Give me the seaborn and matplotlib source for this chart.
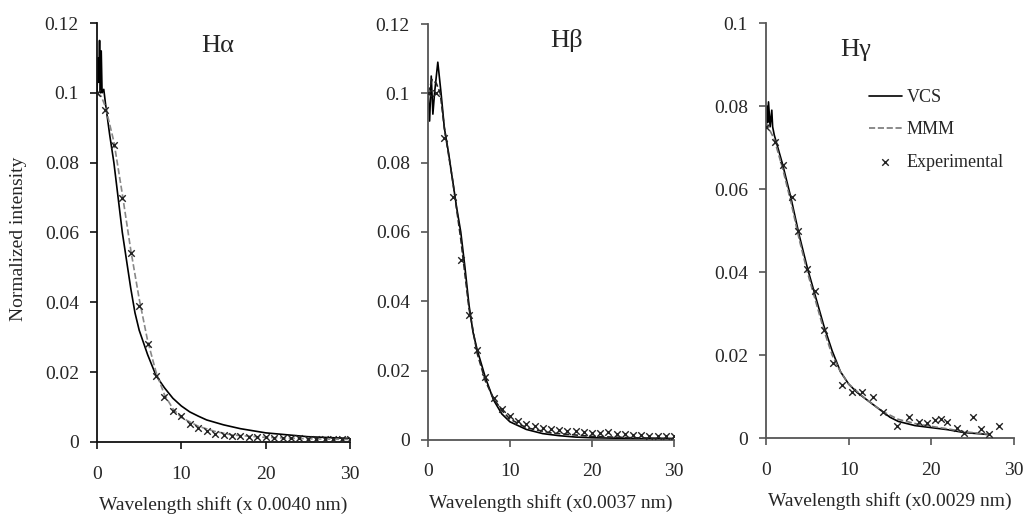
import numpy as np
import pandas as pd
import matplotlib
matplotlib.use("Agg")
import matplotlib.pyplot as plt
import seaborn as sns
from matplotlib.ticker import FuncFormatter, MultipleLocator

# H-alpha
vcs_a_x = [0, 0.1, 0.2, 0.3, 0.4, 0.5, 0.6, 0.8, 1, 1.5, 2, 2.5, 3, 3.5, 4, 4.5, 5, 6, 7, 8, 9, 10, 11, 12, 13, 15, 17, 20, 25, 30]
vcs_a_y = [0.1, 0.11, 0.103, 0.115, 0.1, 0.112, 0.1, 0.101, 0.097, 0.088, 0.08, 0.07, 0.06, 0.052, 0.044, 0.037, 0.032, 0.025, 0.019, 0.0155, 0.0125, 0.0103, 0.0086, 0.0074, 0.0063, 0.0049, 0.0038, 0.0026, 0.0015, 0.001]
mmm_a_x = [0, 0.5, 1, 2, 3, 4, 5, 6, 7, 8, 9, 10, 12, 14, 16, 20, 25, 30]
mmm_a_y = [0.1, 0.099, 0.096, 0.086, 0.071, 0.055, 0.041, 0.029, 0.02, 0.0135, 0.0095, 0.007, 0.0045, 0.003, 0.002, 0.0013, 0.0009, 0.0007]
exp_a_x = [0, 1, 2, 3, 4, 5, 6, 7, 8, 9, 10, 11, 12, 13, 14, 15, 16, 17, 18, 19, 20, 21, 22, 23, 24, 25, 26, 27, 28, 29, 30]
exp_a_y = [0.1, 0.095, 0.085, 0.07, 0.054, 0.039, 0.028, 0.019, 0.013, 0.0088, 0.0075, 0.005, 0.004, 0.003, 0.0022, 0.002, 0.0018, 0.0017,
           0.0015, 0.0014, 0.0013, 0.0012, 0.0011, 0.001, 0.001, 0.0009, 0.0009, 0.0008, 0.0008, 0.0008, 0.0007]

# H-beta
vcs_b_x = [0, 0.2, 0.4, 0.6, 0.8, 1.2, 1.6, 2, 2.5, 3, 3.5, 4, 4.5, 5, 5.5, 6, 6.5, 7, 8, 9, 10, 12, 14, 16, 18, 20, 25, 30]
vcs_b_y = [0.1, 0.092, 0.105, 0.094, 0.1, 0.109, 0.1, 0.09, 0.083, 0.075, 0.067, 0.06, 0.05, 0.039, 0.031, 0.026, 0.022, 0.018, 0.0115,
           0.0075, 0.0052, 0.003, 0.0018, 0.0012, 0.0008, 0.0006, 0.0004, 0.0003]
mmm_b_x = [0, 0.5, 1, 1.5, 2, 3, 4, 5, 6, 7, 8, 9, 10, 12, 15, 20, 25, 30]
mmm_b_y = [0.1, 0.104, 0.103, 0.1, 0.09, 0.075, 0.058, 0.038, 0.025, 0.017, 0.012, 0.0085, 0.006, 0.0035, 0.002, 0.001, 0.0006, 0.0004]
exp_b_x = [0, 1, 2, 3, 4, 5, 6, 7, 8, 9, 10, 11, 12, 13, 14, 15, 16, 17, 18, 19, 20, 21, 22, 23, 24, 25, 26, 27, 28, 29, 30]
exp_b_y = [0.1, 0.1, 0.087, 0.07, 0.052, 0.036, 0.026, 0.018, 0.012, 0.009, 0.007, 0.0055, 0.0045, 0.004, 0.0035, 0.003, 0.0028, 0.0025,
           0.0025, 0.0022, 0.002, 0.002, 0.0022, 0.0018, 0.0016, 0.0015, 0.0015, 0.0012, 0.0012, 0.0012, 0.0012]

# H-gamma
vcs_g_x = [0, 0.1, 0.2, 0.3, 0.5, 0.7, 0.8, 1, 2, 3, 4, 5, 6, 7, 8, 9, 10, 11, 12, 13, 14, 15, 16, 18, 20, 22, 24, 26, 27]
vcs_g_y = [0.075, 0.08, 0.076, 0.081, 0.075, 0.079, 0.075, 0.073, 0.066, 0.058, 0.049, 0.041, 0.034, 0.027, 0.021, 0.016, 0.013, 0.011,
           0.0095, 0.008, 0.0065, 0.005, 0.004, 0.003, 0.0025, 0.002, 0.0013, 0.001, 0.0008]
mmm_g_x = [0, 1, 2, 3, 4, 5, 6, 7, 8, 9, 10, 12, 14, 16, 18, 20, 22, 24, 26, 27]
mmm_g_y = [0.076, 0.072, 0.065, 0.057, 0.048, 0.04, 0.033, 0.026, 0.02, 0.016, 0.013, 0.0095, 0.0065, 0.0045, 0.0035, 0.0028, 0.0022, 0.0015, 0.0011, 0.0009]
exp_g_x = [0, 1.1, 2.0, 3.1, 3.9, 4.9, 5.9, 7.0, 8.1, 9.2, 10.4, 11.6, 12.9, 14.1, 15.9, 17.3, 18.5, 19.5, 20.4, 21.2, 21.9, 23.1, 24, 25, 26, 27, 28.2]
exp_g_y = [0.075, 0.0713, 0.0658, 0.058, 0.05, 0.0407, 0.0354, 0.026, 0.018, 0.0128, 0.011, 0.011, 0.0099, 0.0063, 0.003, 0.005, 0.0038,
           0.0035, 0.0043, 0.0047, 0.0038, 0.0024, 0.0012, 0.005, 0.0022, 0.001, 0.003]

titles = ["H\u03b1", "H\u03b2", "H\u03b3"]
xlabels = ["Wavelength shift (x 0.0040 nm)", "Wavelength shift (x0.0037 nm)", "Wavelength shift (x0.0029 nm)"]
ymaxes = [0.12, 0.12, 0.1]

panels = [
    (vcs_a_x, vcs_a_y, mmm_a_x, mmm_a_y, exp_a_x, exp_a_y),
    (vcs_b_x, vcs_b_y, mmm_b_x, mmm_b_y, exp_b_x, exp_b_y),
    (vcs_g_x, vcs_g_y, mmm_g_x, mmm_g_y, exp_g_x, exp_g_y),
]

sns.set_style("ticks")
plt.rcParams['font.family'] = ['Liberation Serif', 'DejaVu Serif']

fig = plt.figure(figsize=(10.3, 5.23), dpi=100)
boxes = [[0.0942, 0.155, 0.2456, 0.801],
         [0.4155, 0.159, 0.2388, 0.795],
         [0.7437, 0.1625, 0.2408, 0.7935]]
spine_cols = ['#111111', '#555555', '#555555']
mmm_cols = ['#888888', '#222222', '#777777']
title_pos = [(0.478, 0.945), (0.565, 0.96), (0.36, 0.935)]

for i, (vx, vy, mx, my, ex, ey) in enumerate(panels):
    ax = fig.add_axes(boxes[i])
    sns.lineplot(x=vx, y=vy, ax=ax, color='black', lw=1.2, label='VCS', sort=False)
    sns.lineplot(x=mx, y=my, ax=ax, color=mmm_cols[i], lw=1.2, linestyle='--', label='MMM', sort=False)
    sns.scatterplot(x=ex, y=ey, ax=ax, marker='x', color='#222222', s=22, linewidth=1.0, label='Experimental', zorder=3)

    ax.set_xlim(0, 30)
    ax.set_ylim(0, ymaxes[i])
    ax.xaxis.set_major_locator(MultipleLocator(10))
    ax.yaxis.set_major_locator(MultipleLocator(0.02))
    ax.yaxis.set_major_formatter(FuncFormatter(lambda v, p: '%g' % round(v, 3)))
    for s in ['top', 'right']:
        ax.spines[s].set_visible(False)
    for s in ['left', 'bottom']:
        ax.spines[s].set_color(spine_cols[i])
        ax.spines[s].set_linewidth(1.3)
    ax.tick_params(axis='y', direction='out', length=5, width=1.2, pad=8, labelsize=14, color=spine_cols[i])
    ax.tick_params(axis='x', direction='out', length=5, width=1.2, pad=12, labelsize=14, color=spine_cols[i])
    ax.set_xlabel(xlabels[i], fontsize=14, labelpad=10)
    ax.set_ylabel('')
    ax.text(title_pos[i][0], title_pos[i][1], titles[i], transform=ax.transAxes,
            ha='center', va='center', fontsize=19)

    if i == 2:
        ax.legend(loc='upper left', bbox_to_anchor=(0.35, 0.88), frameon=False, fontsize=13,
                  handlelength=1.8, handletextpad=0.3, labelspacing=0.85)
    else:
        ax.get_legend().remove()

fig.text(0.018, 0.543, 'Normalized intensity', rotation=90, ha='center', va='center', fontsize=14)

fig.savefig('out.png', dpi=100)
